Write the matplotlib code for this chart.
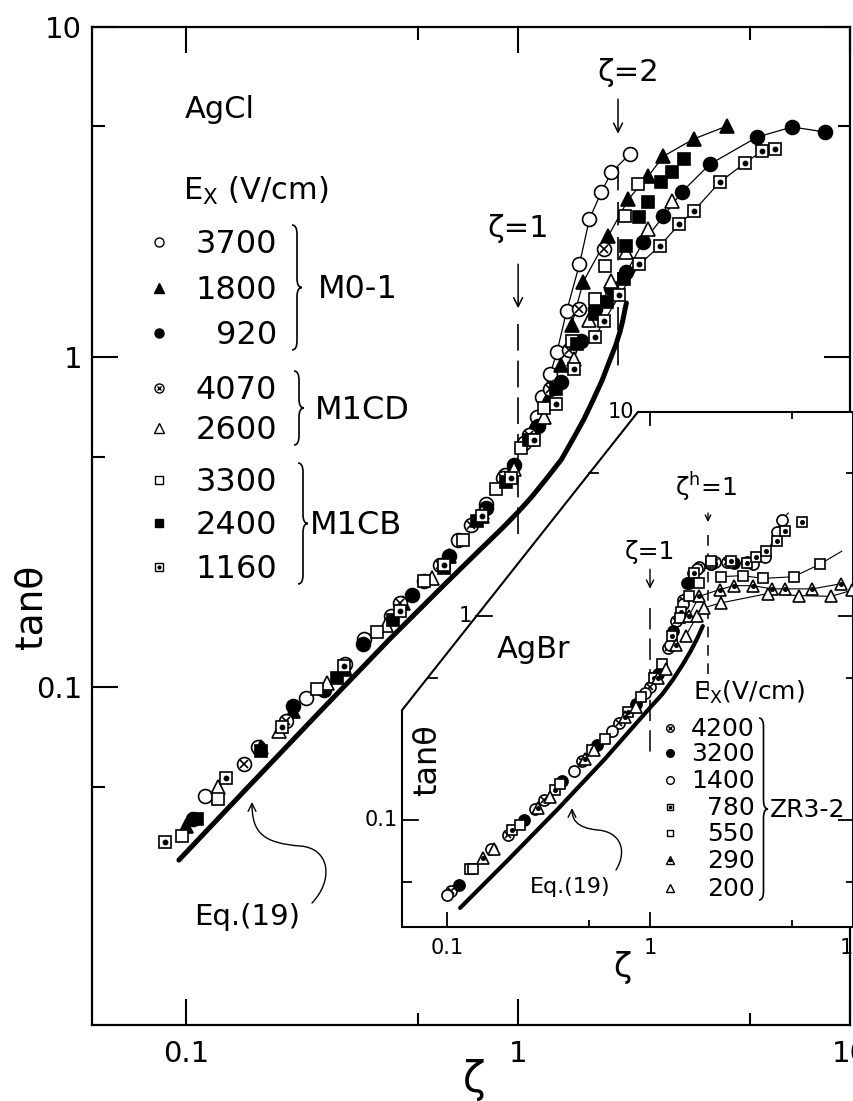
"""tan(theta) vs zeta for AgCl (main) and AgBr (inset), log-log, scan-style figure.

Run:  python plot.py   ->  out.png
"""

import matplotlib

matplotlib.use("Agg")
import matplotlib.pyplot as plt
from matplotlib.lines import Line2D
from matplotlib.patches import FancyArrowPatch, PathPatch, Polygon
from matplotlib.path import Path
from matplotlib.ticker import NullFormatter
import numpy as np

W, H = 854, 1101

# ---- AgCl (main panel): zeta, tan(theta) ----
Z_3700 = [0.114, 0.165, 0.229, 0.343, 0.413, 0.52, 0.66, 0.80, 0.91, 1.04, 1.14, 1.18,
          1.25, 1.31, 1.40, 1.53, 1.64, 1.78, 1.91, 2.17]
T_3700 = [0.047, 0.066, 0.093, 0.140, 0.164, 0.21, 0.28, 0.36, 0.44, 0.55, 0.66, 0.76,
          0.89, 1.04, 1.38, 1.91, 2.62, 3.16, 3.63, 4.12]
Z_1800 = [0.100, 0.168, 0.21, 0.30, 0.45, 0.62, 0.78, 0.95, 1.10, 1.22, 1.35, 1.45,
          1.57, 1.87, 2.15, 2.47, 2.74, 3.38, 4.25]
T_1800 = [0.038, 0.066, 0.085, 0.114, 0.18, 0.25, 0.33, 0.45, 0.60, 0.74, 0.95, 1.25,
          1.69, 2.33, 3.01, 3.54, 4.06, 4.58, 5.01]
Z_920 = [0.105, 0.21, 0.26, 0.34, 0.48, 0.62, 0.80, 0.97, 1.15, 1.35, 1.55, 1.70, 1.90,
         2.12, 2.38, 2.74, 3.11, 3.78, 5.25, 6.69, 8.4]
T_920 = [0.040, 0.088, 0.098, 0.135, 0.19, 0.25, 0.35, 0.47, 0.62, 0.84, 1.12, 1.40, 1.62,
         1.81, 2.23, 2.67, 3.16, 3.84, 4.64, 4.98, 4.81]
Z_4070 = [0.149, 0.20, 0.30, 0.44, 0.58, 0.72, 0.90, 1.08, 1.25, 1.42, 1.53, 1.81]
T_4070 = [0.0585, 0.079, 0.118, 0.18, 0.235, 0.31, 0.43, 0.58, 0.80, 1.05, 1.40, 2.12]
Z_2600 = [0.125, 0.19, 0.265, 0.40, 0.55, 0.78, 0.97, 1.20, 1.47, 1.64, 1.90, 2.12, 2.47, 2.90]
T_2600 = [0.050, 0.074, 0.103, 0.155, 0.215, 0.34, 0.46, 0.66, 0.99, 1.30, 1.70, 2.08, 2.44, 2.97]
Z_3300 = [0.097, 0.125, 0.247, 0.375, 0.52, 0.68, 0.86, 1.02, 1.20, 1.45, 1.70, 1.83, 2.10, 2.30]
T_3300 = [0.0354, 0.046, 0.099, 0.147, 0.21, 0.28, 0.40, 0.53, 0.70, 1.12, 1.50, 1.89, 2.67, 3.34]
Z_2400 = [0.108, 0.168, 0.284, 0.42, 0.60, 0.75, 0.92, 1.08, 1.30, 1.50, 1.70, 1.85, 2.08,
          2.12, 2.32, 2.47, 2.70, 2.90, 3.17]
T_2400 = [0.040, 0.064, 0.107, 0.16, 0.23, 0.32, 0.42, 0.56, 0.80, 1.10, 1.35, 1.47, 1.72,
          2.17, 2.66, 2.95, 3.39, 3.63, 3.98]
Z_1160 = [0.086, 0.132, 0.194, 0.298, 0.44, 0.60, 0.78, 0.95, 1.12, 1.30, 1.47, 1.70, 1.82,
          2.02, 2.32, 2.67, 3.06, 3.38, 4.05, 4.82, 5.43, 5.94]
T_1160 = [0.034, 0.053, 0.076, 0.116, 0.17, 0.235, 0.33, 0.43, 0.56, 0.72, 0.92, 1.15, 1.29,
          1.54, 1.91, 2.17, 2.53, 2.77, 3.39, 3.87, 4.21, 4.26]

EQ19_Z = [0.095, 0.15, 0.25, 0.41, 0.60, 0.77, 0.90, 1.00, 1.10, 1.22, 1.35, 1.47, 1.58,
          1.68, 1.79, 1.89, 1.97, 2.03, 2.07, 2.10, 2.12]
EQ19_T = [0.030, 0.0487, 0.0835, 0.140, 0.205, 0.262, 0.305, 0.340, 0.378, 0.43, 0.49,
          0.57, 0.65, 0.74, 0.85, 0.98, 1.09, 1.20, 1.30, 1.40, 1.46]

MAIN_FIELDS = ["3700", "1800", "920", "4070", "2600", "3300", "2400", "1160"]
MAIN_GROUPS = [("M0-1", 0, 2), ("M1CD", 3, 4), ("M1CB", 5, 7)]
MAIN_FIT_FROM = {"3700": 1.1, "1800": 1.4, "920": 1.7, "1160": 1.7}

# ---- AgBr (inset) ----
Z_4200 = [0.105, 0.20, 0.30, 0.46, 0.70, 1.0, 1.22, 1.35, 1.45, 1.55, 1.75, 2.1, 2.4]
T_4200 = [0.045, 0.085, 0.125, 0.195, 0.30, 0.45, 0.70, 0.95, 1.20, 1.45, 1.75, 1.85, 1.85]
Z_3200 = [0.115, 0.24, 0.37, 0.55, 0.85, 1.1, 1.30, 1.52, 1.62, 2.0, 2.6, 3.0]
T_3200 = [0.048, 0.10, 0.155, 0.235, 0.37, 0.52, 0.85, 1.45, 1.62, 1.80, 1.82, 1.85]
Z_1400 = [0.10, 0.165, 0.27, 0.42, 0.65, 0.95, 1.25, 1.45, 1.7, 2.0, 2.5, 3.2, 3.7, 4.2, 4.45]
T_1400 = [0.043, 0.072, 0.113, 0.175, 0.275, 0.42, 0.72, 1.15, 1.70, 1.80, 1.85, 1.80, 1.95,
          2.57, 2.97]
Z_780 = [0.13, 0.21, 0.34, 0.52, 0.78, 1.05, 1.28, 1.42, 1.65, 2.0, 2.5, 3.0, 3.33, 3.73, 4.2,
         4.65, 5.6]
T_780 = [0.058, 0.09, 0.14, 0.22, 0.34, 0.50, 0.80, 1.05, 1.62, 1.82, 1.86, 1.82, 1.95, 2.08,
         2.33, 2.60, 2.90]
Z_550 = [0.135, 0.23, 0.36, 0.60, 0.90, 1.15, 1.40, 1.55, 1.75, 2.0, 2.23, 2.86, 3.6, 5.1, 6.9]
T_550 = [0.058, 0.095, 0.15, 0.25, 0.40, 0.58, 0.98, 1.25, 1.45, 1.86, 1.56, 1.58, 1.53, 1.56, 1.80]
Z_290 = [0.15, 0.28, 0.48, 0.75, 1.1, 1.35, 1.55, 1.75, 2.2, 2.6, 3.2, 4.0, 4.6, 6.3, 8.7]
T_290 = [0.065, 0.115, 0.20, 0.32, 0.50, 0.72, 1.00, 1.25, 1.35, 1.41, 1.41, 1.36, 1.36, 1.36, 1.44]
Z_200 = [0.17, 0.32, 0.53, 0.85, 1.2, 1.50, 1.70, 1.85, 2.23, 3.8, 5.4, 7.8, 9.9]
T_200 = [0.072, 0.13, 0.22, 0.36, 0.55, 0.80, 1.00, 1.10, 1.16, 1.29, 1.26, 1.25, 1.34]

IN_EQ19_Z = [0.116, 0.2, 0.35, 0.6, 1.0, 1.15, 1.3, 1.45, 1.58, 1.70, 1.82]
IN_EQ19_T = [0.0372, 0.064, 0.113, 0.20, 0.356, 0.415, 0.49, 0.58, 0.67, 0.77, 0.894]

INSET_FIELDS = ["4200", "3200", "1400", "780", "550", "290", "200"]
INSET_FIT_FROM = {"1400": 3.6, "550": 2.2, "290": 1.5, "200": 1.5}
INSET_FIT_TAIL = {"1400": ([4.8], [3.2]), "550": ([8.8], [2.08])}

# marker layers: (marker, face colour, size factor)
STYLES = {
    "open_circle": [("o", "white", 1.0)],
    "filled_circle": [("o", "black", 1.0)],
    "filled_tri": [("^", "black", 1.0)],
    "open_tri": [("^", "white", 1.0)],
    "open_square": [("s", "white", 0.9)],
    "filled_square": [("s", "black", 0.9)],
    "circle_x": [("o", "white", 1.0), ("x", "black", 0.55)],
    "square_dot": [("s", "white", 0.9), ("o", "black", 0.3)],
    "tri_dot": [("^", "white", 1.0), ("o", "black", 0.3)],
}
MAIN_STYLES = ["open_circle", "filled_tri", "filled_circle", "circle_x", "open_tri",
               "open_square", "filled_square", "square_dot"]
INSET_STYLES = ["circle_x", "filled_circle", "open_circle", "square_dot", "open_square",
                "tri_dot", "open_tri"]


def fxy(px, py):
    return px / W, 1 - py / H


def draw_points(ax, z, t, style, ms):
    for marker, fc, k in STYLES[style]:
        ax.plot(z, t, ls="none", marker=marker, ms=ms * k, mfc=fc, mec="black",
                mew=1.2, zorder=4)


def legend_marker(fig, px, py, style, ms):
    x, y = fxy(px, py)
    for marker, fc, k in STYLES[style]:
        fig.add_artist(Line2D([x], [y], marker=marker, ms=ms * k, mfc=fc, mec="black",
                              mew=1.0, ls="none", transform=fig.transFigure, zorder=6))


def brace(fig, px, top, bottom, w=10, lw=1.2):
    mid = (top + bottom) / 2
    d = 9
    pts = [(px, top), (px + w / 2, top), (px + w / 2, top + d), (px + w / 2, mid - d),
           (px + w / 2, mid), (px + w, mid), (px + w / 2, mid), (px + w / 2, mid + d),
           (px + w / 2, bottom - d), (px + w / 2, bottom), (px, bottom)]
    codes = [Path.MOVETO, Path.CURVE3, Path.CURVE3, Path.LINETO, Path.CURVE3, Path.CURVE3,
             Path.CURVE3, Path.CURVE3, Path.LINETO, Path.CURVE3, Path.CURVE3]
    fig.add_artist(PathPatch(Path([fxy(*p) for p in pts], codes), fill=False, lw=lw,
                             transform=fig.transFigure, zorder=6))


def curved_arrow(fig, pts):
    codes = [Path.MOVETO] + [Path.CURVE4] * (len(pts) - 1)
    fig.add_artist(FancyArrowPatch(path=Path([fxy(*p) for p in pts], codes),
                                   arrowstyle="->", mutation_scale=14, lw=1.0,
                                   color="black", transform=fig.transFigure, zorder=6))


def ftext(fig, px, py, s, size, **kw):
    x, y = fxy(px, py)
    kw.setdefault("va", "baseline")
    fig.text(x, y, s, fontsize=size, zorder=6, **kw)


fig = plt.figure(figsize=(W / 100, H / 100), dpi=100)

# ================= main panel =================
x0, y0 = fxy(92, 1025)
x1, y1 = fxy(850, 27)
ax = fig.add_axes([x0, y0, x1 - x0, y1 - y0], zorder=1)
ax.set_xscale("log")
ax.set_yscale("log")

main_z = [Z_3700, Z_1800, Z_920, Z_4070, Z_2600, Z_3300, Z_2400, Z_1160]
main_t = [T_3700, T_1800, T_920, T_4070, T_2600, T_3300, T_2400, T_1160]

ax.plot(EQ19_Z, EQ19_T, color="black", lw=3.6, solid_capstyle="round",
        solid_joinstyle="round", zorder=3)
for name, z, t in zip(MAIN_FIELDS, main_z, main_t):
    if name in MAIN_FIT_FROM:
        z_arr, t_arr = np.array(z), np.array(t)
        keep = z_arr >= MAIN_FIT_FROM[name]
        ax.plot(z_arr[keep], t_arr[keep], color="black", lw=0.9, zorder=3)
for z, t, st in zip(main_z, main_t, MAIN_STYLES):
    draw_points(ax, z, t, st, 10)

# zeta = 1 and zeta = 2 markers
ax.plot([1, 1], [1.26, 0.276], color="black", lw=1.2, dashes=(16, 6), zorder=2)
ax.plot([2, 2], [3.78, 0.94], color="black", lw=1.2, dashes=(14, 7), zorder=2)
ax.annotate("", xy=(1, 1.38), xytext=(1, 1.95),
            arrowprops=dict(arrowstyle="->", lw=1.1, color="black", mutation_scale=16))
ax.annotate("", xy=(2, 4.66), xytext=(2, 6.16),
            arrowprops=dict(arrowstyle="->", lw=1.1, color="black", mutation_scale=16))
ax.text(1.0, 2.45, "ζ=1", fontsize=22, ha="center", va="center")
ax.text(2.15, 7.3, "ζ=2", fontsize=22, ha="center", va="center")

ax.set_xlim(0.052, 10)
ax.set_ylim(0.0095, 10)
ax.set_xticks([0.1, 1, 10], ["0.1", "1", "10"])
ax.set_xticks([0.5, 5], minor=True)
ax.set_yticks([0.1, 1, 10], ["0.1", "1", "10"])
ax.set_yticks([0.05, 0.5, 5], minor=True)
ax.xaxis.set_minor_formatter(NullFormatter())
ax.yaxis.set_minor_formatter(NullFormatter())
ax.tick_params(which="both", direction="in", top=True, right=True, width=1.5,
               labelsize=21)
ax.tick_params(which="major", length=19)
ax.tick_params(which="minor", length=9)
ax.tick_params(axis="x", pad=11)
ax.tick_params(axis="y", pad=7)
for sp in ax.spines.values():
    sp.set_linewidth(1.6)

# ================= AgBr inset =================
ix0, iy0 = fxy(402, 927)
ix1, iy1 = fxy(853, 412)
ax2 = fig.add_axes([ix0, iy0, ix1 - ix0, iy1 - iy0], zorder=3)
ax2.set_xscale("log")
ax2.set_yscale("log")
ax2.patch.set_visible(False)
for sp in ax2.spines.values():
    sp.set_visible(False)

cx, cy = 0.523, 0.421  # chamfered corner of the inset frame
ax2.add_patch(Polygon([(0, 0), (1, 0), (1, 1), (cx, 1), (0, cy)], closed=True,
                      facecolor="white", edgecolor="black", lw=1.5,
                      transform=ax2.transAxes, zorder=0, clip_on=False))

in_z = [Z_4200, Z_3200, Z_1400, Z_780, Z_550, Z_290, Z_200]
in_t = [T_4200, T_3200, T_1400, T_780, T_550, T_290, T_200]

ax2.plot(IN_EQ19_Z, IN_EQ19_T, color="black", lw=3.0, solid_capstyle="round",
         solid_joinstyle="round", zorder=3)
for name, z, t in zip(INSET_FIELDS, in_z, in_t):
    if name in INSET_FIT_FROM:
        z_arr, t_arr = np.array(z), np.array(t)
        keep = z_arr >= INSET_FIT_FROM[name]
        zz, tt = list(z_arr[keep]), list(t_arr[keep])
        if name in INSET_FIT_TAIL:
            zz += INSET_FIT_TAIL[name][0]
            tt += INSET_FIT_TAIL[name][1]
        ax2.plot(zz, tt, color="black", lw=0.8, zorder=3)
for z, t, st in zip(in_z, in_t, INSET_STYLES):
    draw_points(ax2, z, t, st, 8)

ax2.plot([1, 1], [1.09, 0.20], color="black", lw=1.1, dashes=(14, 6), zorder=2)
ax2.plot([1.93, 1.93], [2.51, 0.43], color="black", lw=1.1, dashes=(7, 5), zorder=2)
ax2.annotate("", xy=(1, 1.32), xytext=(1, 1.75),
             arrowprops=dict(arrowstyle="->", lw=1.0, color="black", mutation_scale=13))
ax2.annotate("", xy=(1.93, 2.8), xytext=(1.93, 3.3),
             arrowprops=dict(arrowstyle="->", lw=1.0, color="black", mutation_scale=10))
ax2.text(1.0, 2.07, "ζ=1", fontsize=18, ha="center", va="center")
ax2.text(1.9, 4.3, "ζ$^{\\mathregular{h}}$=1", fontsize=18, ha="center", va="center")

ylo, yhi = 0.030, 10
ax2.set_xlim(0.060, 10)
ax2.set_ylim(ylo, yhi)
ax2.set_xticks([0.1, 1, 10], ["0.1", "1", "10"])
ax2.set_xticks([0.5, 5], minor=True)
ax2.set_yticks([0.1, 1, 10])
ax2.set_yticks([0.05, 0.5, 5], minor=True)
ax2.xaxis.set_minor_formatter(NullFormatter())
ax2.yaxis.set_minor_formatter(NullFormatter())
ax2.tick_params(which="both", direction="in", top=False, left=False, right=True,
                labelleft=False, width=1.3, labelsize=15)
ax2.tick_params(which="major", length=11)
ax2.tick_params(which="minor", length=5)
ax2.tick_params(axis="x", pad=8)

# ticks along the chamfered left edge and the shortened top edge
for v, major in [(0.05, False), (0.1, True), (0.5, False), (1, True), (5, False)]:
    yf = (np.log10(v) - np.log10(ylo)) / (np.log10(yhi) - np.log10(ylo))
    xf = 0 if yf <= cy else (yf - cy) / (1 - cy) * cx
    ln = (16 if major else 9) / 451
    ax2.plot([xf, xf + ln], [v, v], color="black", lw=1.3,
             transform=ax2.get_yaxis_transform(), clip_on=False, zorder=5)
for v, lab in [(0.1, "0.1"), (1, "1"), (10, "10")]:
    yf = (np.log10(v) - np.log10(ylo)) / (np.log10(yhi) - np.log10(ylo))
    xf = 0 if yf <= cy else (yf - cy) / (1 - cy) * cx
    ax2.text(xf - 4 / 451, v, lab, fontsize=15, ha="right", va="center",
             transform=ax2.get_yaxis_transform())
for v, major in [(1, True), (5, False)]:
    ln = (13 if major else 6) / 515
    ax2.plot([v, v], [1, 1 - ln], color="black", lw=1.3,
             transform=ax2.get_xaxis_transform(), clip_on=False, zorder=5)

# ================= labels, legends, annotations =================
ftext(fig, 32, 607, "tanθ", 27, rotation=90, ha="center", va="center")
ftext(fig, 474, 1080, "ζ", 30, ha="center", va="center")
ftext(fig, 428, 760, "tanθ", 23, rotation=90, ha="center", va="center")
ftext(fig, 622, 968, "ζ", 24, ha="center", va="center")

ftext(fig, 185, 118, "AgCl", 22)
ftext(fig, 183, 200, "E$_\\mathregular{X}$ (V/cm)", 22)
rows = [242, 288, 333, 388, 428, 480, 523, 567]
for name, st, py in zip(MAIN_FIELDS, MAIN_STYLES, rows):
    legend_marker(fig, 159, py, st, 6.5)
    ftext(fig, 277, py + 11, name, 23, ha="right")
brace_x = [292, 294, 298]
label_x = [318, 315, 310]
for (grp, i0, i1), bx, lx in zip(MAIN_GROUPS, brace_x, label_x):
    top, bot = rows[i0] - 17, rows[i1] + 17
    brace(fig, bx, top, bot)
    ftext(fig, lx, (top + bot) / 2 + 11, grp, 23)

ftext(fig, 247, 917, "Eq.(19)", 21, ha="center", va="center")
curved_arrow(fig, [(312, 903), (334, 880), (330, 848), (300, 846),
                   (262, 843), (252, 832), (252, 802)])

ftext(fig, 497, 658, "AgBr", 22)
ftext(fig, 693, 700, "E$_\\mathregular{X}$(V/cm)", 18)
in_rows = [728, 753, 780, 807, 833, 860, 888]
for name, st, py in zip(INSET_FIELDS, INSET_STYLES, in_rows):
    legend_marker(fig, 670, py, st, 5.5)
    ftext(fig, 755, py + 8, name, 18, ha="right")
brace(fig, 759, 718, 900, w=9)
ftext(fig, 770, 817, "ZR3-2", 18)

ftext(fig, 570, 887, "Eq.(19)", 16, ha="center", va="center")
curved_arrow(fig, [(616, 870), (628, 850), (620, 832), (598, 830),
                   (575, 828), (572, 818), (572, 808)])

fig.savefig("out.png", dpi=100)
